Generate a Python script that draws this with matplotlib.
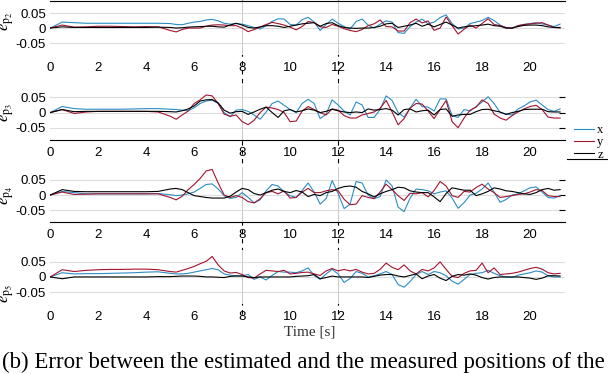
import matplotlib
matplotlib.use('Agg')
import matplotlib.pyplot as plt
from matplotlib.lines import Line2D
import numpy as np

# time base: coarse on the quiet start, finer afterwards
t = np.concatenate([np.arange(0, 5, 0.5), np.arange(5, 21.5, 0.25)])

##### e_p2
p2_x = [0.000, 0.020, 0.018, 0.016, 0.016, 0.016, 0.016, 0.016, 0.016, 0.016,
        0.015, 0.012, 0.011, 0.016, 0.020, 0.022, 0.027, 0.029, 0.024, 0.016, 0.013, 0.015,
        0.013, 0.008, 0.002, -0.003, 0.008, 0.022, 0.031, 0.030, 0.012, 0.010, 0.028, 0.036,
        0.020, -0.008, 0.012, 0.030, 0.016, 0.005, -0.003, 0.022, 0.030, 0.010, 0.000, 0.013,
        0.024, 0.020, -0.015, -0.018, 0.005, 0.020, 0.030, 0.014, 0.020, 0.035, 0.044, 0.015,
        -0.003, 0.000, 0.015, 0.020, 0.025, 0.036, 0.025, 0.010, 0.000, 0.000, 0.008, 0.012,
        0.015, 0.018, 0.014, 0.010, 0.005, 0.013]
p2_y = [0.000, 0.010, 0.003, 0.004, 0.006, 0.006, 0.005, 0.004, 0.005, 0.004,
        -0.008, -0.013, -0.005, 0.000, 0.000, 0.000, 0.006, 0.010, 0.011, 0.010, 0.008, 0.008,
        0.000, -0.012, -0.005, 0.003, 0.012, 0.019, 0.015, 0.010, 0.003, -0.006, 0.005, 0.022,
        0.018, 0.004, 0.002, 0.012, 0.006, -0.002, -0.008, -0.012, -0.005, 0.008, 0.014, 0.027,
        0.005, 0.004, -0.010, -0.010, 0.018, 0.030, 0.017, 0.024, -0.008, 0.000, 0.037, 0.008,
        -0.020, -0.004, 0.010, 0.000, 0.015, 0.031, 0.012, 0.008, 0.002, -0.001, 0.008, 0.012,
        0.014, 0.016, 0.018, 0.010, 0.002, 0.000]
p2_z = [0.000, 0.004, 0.002, 0.002, 0.002, 0.002, 0.002, 0.002, 0.002, 0.003,
        0.002, 0.000, 0.001, 0.003, 0.004, 0.005, 0.006, 0.006, 0.004, 0.003, 0.010, 0.016,
        0.010, 0.002, 0.000, 0.004, 0.008, 0.008, 0.006, 0.002, 0.006, 0.010, 0.014, 0.016,
        0.018, 0.006, 0.015, 0.018, 0.008, 0.002, 0.000, -0.001, 0.000, 0.000, 0.002, 0.006,
        0.014, 0.016, 0.002, 0.006, 0.010, 0.016, 0.006, 0.013, 0.004, 0.012, 0.020, 0.010,
        0.000, 0.004, 0.006, 0.008, 0.010, 0.013, 0.008, 0.006, 0.000, 0.000, 0.005, 0.009,
        0.010, 0.010, 0.008, 0.004, 0.002, 0.002]

##### e_p3
p3_x = [0.000, 0.020, 0.013, 0.011, 0.011, 0.011, 0.011, 0.012, 0.013, 0.013,
        0.011, 0.010, 0.008, 0.006, 0.016, 0.030, 0.038, 0.041, 0.030, 0.000, -0.014, 0.008,
        0.010, 0.004, -0.008, -0.022, 0.002, 0.030, 0.038, 0.024, 0.010, 0.000, 0.030, 0.044,
        0.030, -0.020, -0.005, 0.042, 0.025, 0.005, -0.008, 0.035, 0.025, -0.016, -0.016, 0.010,
        0.055, 0.040, 0.000, -0.015, 0.015, 0.044, 0.020, 0.018, 0.005, 0.045, 0.045, -0.010,
        -0.016, 0.010, 0.005, 0.020, 0.035, 0.052, 0.030, 0.000, -0.005, -0.008, 0.012, 0.022,
        0.035, 0.041, 0.025, 0.010, 0.004, 0.012]
p3_y = [0.000, 0.010, -0.003, 0.002, 0.004, 0.004, 0.004, 0.004, 0.004, 0.002,
        -0.012, -0.022, -0.008, 0.005, 0.030, 0.042, 0.058, 0.055, 0.030, -0.005, -0.012, -0.008,
        -0.030, -0.040, -0.025, 0.000, 0.018, 0.015, 0.010, 0.000, -0.030, -0.028, 0.005, 0.020,
        0.010, 0.000, -0.008, 0.012, 0.008, -0.010, -0.018, -0.018, -0.008, -0.003, 0.002, 0.014,
        0.040, 0.002, -0.040, -0.020, 0.015, 0.030, 0.028, 0.005, -0.020, 0.010, 0.040, -0.030,
        -0.050, -0.018, 0.008, 0.018, 0.042, 0.030, -0.005, -0.018, -0.025, -0.010, 0.002, 0.012,
        0.020, 0.024, 0.010, -0.015, -0.018, -0.018]
p3_z = [0.000, 0.010, 0.003, 0.004, 0.004, 0.004, 0.004, 0.004, 0.004, 0.004,
        0.003, 0.002, 0.006, 0.012, 0.022, 0.038, 0.042, 0.043, 0.032, 0.008, -0.002, 0.003,
        0.004, -0.006, 0.002, 0.011, 0.018, 0.000, -0.016, 0.006, 0.010, 0.002, 0.006, 0.012,
        0.008, 0.000, 0.004, 0.011, 0.006, 0.002, 0.000, 0.002, 0.000, 0.012, 0.008, 0.010,
        0.013, 0.008, -0.008, 0.010, 0.012, 0.002, 0.006, 0.008, -0.008, 0.010, 0.012, -0.012,
        -0.008, -0.006, -0.006, 0.003, 0.010, 0.011, 0.006, 0.002, -0.006, 0.000, 0.004, 0.010,
        0.011, 0.011, 0.011, 0.003, 0.002, 0.002]

##### e_p4
p4_x = [0.000, 0.012, 0.008, 0.004, 0.004, 0.004, 0.004, 0.004, 0.004, 0.005,
        0.001, -0.002, 0.000, 0.004, 0.010, 0.022, 0.035, 0.037, 0.020, -0.002, -0.011, -0.008,
        0.008, -0.008, -0.026, -0.016, 0.014, 0.035, 0.030, 0.010, -0.002, -0.008, 0.015, 0.040,
        0.010, -0.030, -0.012, 0.048, 0.005, -0.045, -0.030, 0.045, 0.040, 0.000, -0.012, -0.005,
        0.050, 0.030, -0.040, -0.055, -0.010, 0.020, 0.018, 0.014, 0.004, 0.010, 0.014, -0.010,
        -0.044, -0.025, 0.000, 0.006, 0.020, 0.040, 0.010, -0.024, -0.015, 0.000, 0.004, 0.014,
        0.024, 0.027, 0.010, -0.008, -0.010, -0.002]
p4_y = [0.000, 0.010, 0.002, 0.003, 0.004, 0.004, 0.004, 0.004, 0.004, 0.004,
        -0.008, -0.016, -0.004, 0.018, 0.035, 0.055, 0.080, 0.085, 0.040, 0.000, -0.008, -0.002,
        -0.008, -0.022, -0.026, -0.012, 0.008, 0.012, 0.004, 0.014, -0.010, -0.008, 0.010, 0.022,
        0.008, 0.008, 0.014, 0.018, 0.014, -0.014, -0.032, -0.030, -0.002, -0.008, -0.012, 0.010,
        0.036, 0.018, -0.002, -0.018, 0.006, 0.004, 0.008, -0.006, 0.015, 0.045, 0.030, -0.002,
        -0.008, 0.012, 0.010, 0.025, 0.036, 0.020, 0.008, -0.008, -0.005, -0.002, 0.002, 0.004,
        0.010, 0.018, 0.015, -0.002, -0.005, -0.005]
p4_z = [0.000, 0.018, 0.012, 0.011, 0.011, 0.011, 0.011, 0.011, 0.011, 0.012,
        0.020, 0.022, 0.018, 0.008, -0.002, -0.005, -0.008, -0.010, -0.010, -0.010, -0.004, 0.010,
        0.022, 0.018, 0.005, 0.000, 0.008, 0.016, 0.020, 0.012, 0.008, 0.015, 0.010, -0.005,
        0.002, -0.002, 0.008, 0.012, 0.022, 0.028, 0.030, 0.026, 0.012, 0.004, -0.006, 0.004,
        0.012, 0.018, 0.026, 0.024, 0.014, 0.010, 0.008, 0.008, -0.006, -0.022, 0.005, 0.024,
        0.020, 0.016, 0.016, -0.002, 0.004, 0.012, 0.024, 0.020, 0.014, 0.012, 0.008, 0.004,
        0.002, 0.008, 0.018, 0.022, 0.016, 0.018]

##### e_p5
p5_x = [0.000, 0.014, 0.010, 0.011, 0.011, 0.012, 0.013, 0.014, 0.016, 0.017,
        0.012, 0.010, 0.010, 0.012, 0.016, 0.020, 0.024, 0.028, 0.024, 0.010, 0.006, 0.004,
        0.004, 0.008, -0.008, 0.000, -0.010, 0.005, 0.018, 0.016, 0.016, 0.014, 0.020, 0.030,
        0.005, -0.008, 0.010, 0.025, 0.010, -0.018, -0.005, 0.018, 0.012, 0.000, 0.004, 0.010,
        0.018, 0.008, -0.025, -0.034, -0.015, 0.008, 0.018, 0.008, 0.018, 0.014, 0.004, -0.014,
        -0.024, -0.008, 0.008, 0.012, 0.014, 0.022, 0.012, 0.004, 0.000, -0.002, 0.006, 0.010,
        0.014, 0.020, 0.016, 0.004, 0.000, 0.000]
p5_y = [0.000, 0.024, 0.018, 0.022, 0.024, 0.025, 0.025, 0.026, 0.026, 0.024,
        0.018, 0.016, 0.022, 0.028, 0.035, 0.044, 0.052, 0.068, 0.040, 0.020, 0.013, 0.015,
        0.008, -0.002, -0.004, 0.010, 0.022, 0.020, 0.018, 0.022, 0.010, 0.012, 0.015, 0.016,
        0.010, 0.005, 0.020, 0.028, 0.020, 0.025, 0.020, 0.025, 0.016, 0.010, 0.012, 0.025,
        0.046, 0.032, 0.024, 0.040, 0.020, 0.010, 0.025, 0.020, 0.030, 0.050, 0.025, 0.002,
        -0.002, 0.012, 0.020, 0.022, 0.046, 0.014, 0.030, 0.008, 0.010, 0.012, 0.016, 0.022,
        0.028, 0.032, 0.026, 0.014, 0.010, 0.012]
p5_z = [0.000, -0.006, 0.000, 0.000, 0.000, 0.000, 0.000, 0.000, 0.000, 0.001,
        0.001, 0.002, 0.003, 0.003, 0.003, 0.002, 0.000, 0.000, -0.001, -0.002, 0.002, 0.003,
        0.003, 0.000, -0.002, 0.000, 0.000, 0.000, 0.000, 0.000, 0.000, 0.002, 0.003, 0.004,
        0.008, -0.006, -0.002, 0.003, 0.000, 0.000, 0.000, 0.000, 0.000, -0.002, 0.002, 0.006,
        0.008, 0.008, 0.003, 0.000, 0.005, 0.010, -0.006, 0.003, 0.008, -0.004, -0.012, 0.002,
        0.008, 0.006, 0.010, 0.006, -0.002, -0.007, -0.002, 0.000, 0.000, 0.000, 0.000, -0.002,
        -0.004, -0.008, -0.004, 0.004, 0.004, 0.003]

labels = ['$e_{\\mathrm{p}_2}$', '$e_{\\mathrm{p}_3}$', '$e_{\\mathrm{p}_4}$', '$e_{\\mathrm{p}_5}$']
series = [(p2_x, p2_y, p2_z), (p3_x, p3_y, p3_z), (p4_x, p4_y, p4_z), (p5_x, p5_y, p5_z)]
yticks = [-0.05, 0, 0.05]
ytick_labels = ['-0.05', '0', '0.05']
xticks = [0, 2, 4, 6, 8, 10, 12, 14, 16, 18, 20]
events = [8, 12]
legend_names = ['x', 'y', 'z']

c_x = '#2b8cc4'
c_y = '#a2142f'
c_z = 'black'

plt.rcParams['font.family'] = ['Liberation Sans', 'DejaVu Sans']
plt.rcParams['mathtext.fontset'] = 'stix'

fig = plt.figure(figsize=(6.12, 3.74), dpi=100)

# panel boxes in figure fractions (left, bottom, width, height)
boxes = [(0.082, 0.853, 0.841, 0.144),
         (0.082, 0.626, 0.841, 0.146),
         (0.082, 0.406, 0.841, 0.145),
         (0.082, 0.187, 0.841, 0.145)]
ylab_y = [0.62, 0.5, 0.5, 0.2]

axes = []
for k, (box, (sx, sy, sz)) in enumerate(zip(boxes, series)):
    ax = fig.add_axes(box)
    for yv in yticks:
        ax.axhline(yv, color='#dddddd', lw=0.8, zorder=0)
    for ev in events:
        ax.axvline(ev, color='#cccccc', lw=0.8, zorder=0)
    ax.plot(t, sx, color=c_x, lw=0.8)
    ax.plot(t, sy, color=c_y, lw=0.8)
    ax.plot(t, sz, color=c_z, lw=0.8)
    ax.set_xlim(0, 21.45)
    ax.set_ylim(-0.09, 0.09)
    ax.set_yticks(yticks)
    ax.set_yticklabels(ytick_labels)
    ax.set_xticks(xticks)
    ax.tick_params(axis='both', length=0, labelsize=9.5, pad=3)
    ax.tick_params(axis='x', pad=5)
    for s in ax.spines.values():
        s.set_visible(False)
    ax.set_ylabel(labels[k], fontsize=12)
    ax.yaxis.set_label_coords(-0.066, ylab_y[k])
    axes.append(ax)

# what is still visible of the original boxes
axes[0].spines['top'].set_visible(True)
axes[1].spines['bottom'].set_visible(True)
axes[2].spines['bottom'].set_visible(True)
for ax in (axes[1], axes[2]):
    ax.tick_params(axis='y', right=True, length=4, direction='in')
    ax.tick_params(axis='y', left=False)

# dashed event markers running through the whole figure
x0, x1 = axes[0].get_position().x0, axes[0].get_position().x1
for ev in events:
    fx = x0 + (x1 - x0) * ev / 21.45
    fig.lines.append(Line2D([fx, fx], [0.16, 1.0], transform=fig.transFigure,
                            color='black', lw=0.8, ls=(0, (4, 4)), zorder=-1))

handles = [Line2D([], [], color=c, lw=0.8) for c in (c_x, c_y, c_z)]
fig.legend(handles, legend_names, loc='upper left', bbox_to_anchor=(0.927, 0.685),
           frameon=False, prop={'family': 'Liberation Serif', 'size': 9},
           handlelength=1.6, handletextpad=0.3, labelspacing=0.02, borderpad=0)
fig.lines.append(Line2D([0.926, 0.992], [0.575, 0.575], transform=fig.transFigure,
                        color='black', lw=0.8))

fig.text(0.506, 0.112, 'Time [s]', ha='center', va='center',
         family='Liberation Serif', fontsize=11, color='#333333')
fig.text(0.003, 0.032, '(b) Error between the estimated and the measured positions of the',
         ha='left', va='center', family='Liberation Serif', fontsize=16.5)

fig.savefig('out.png', dpi=100)
